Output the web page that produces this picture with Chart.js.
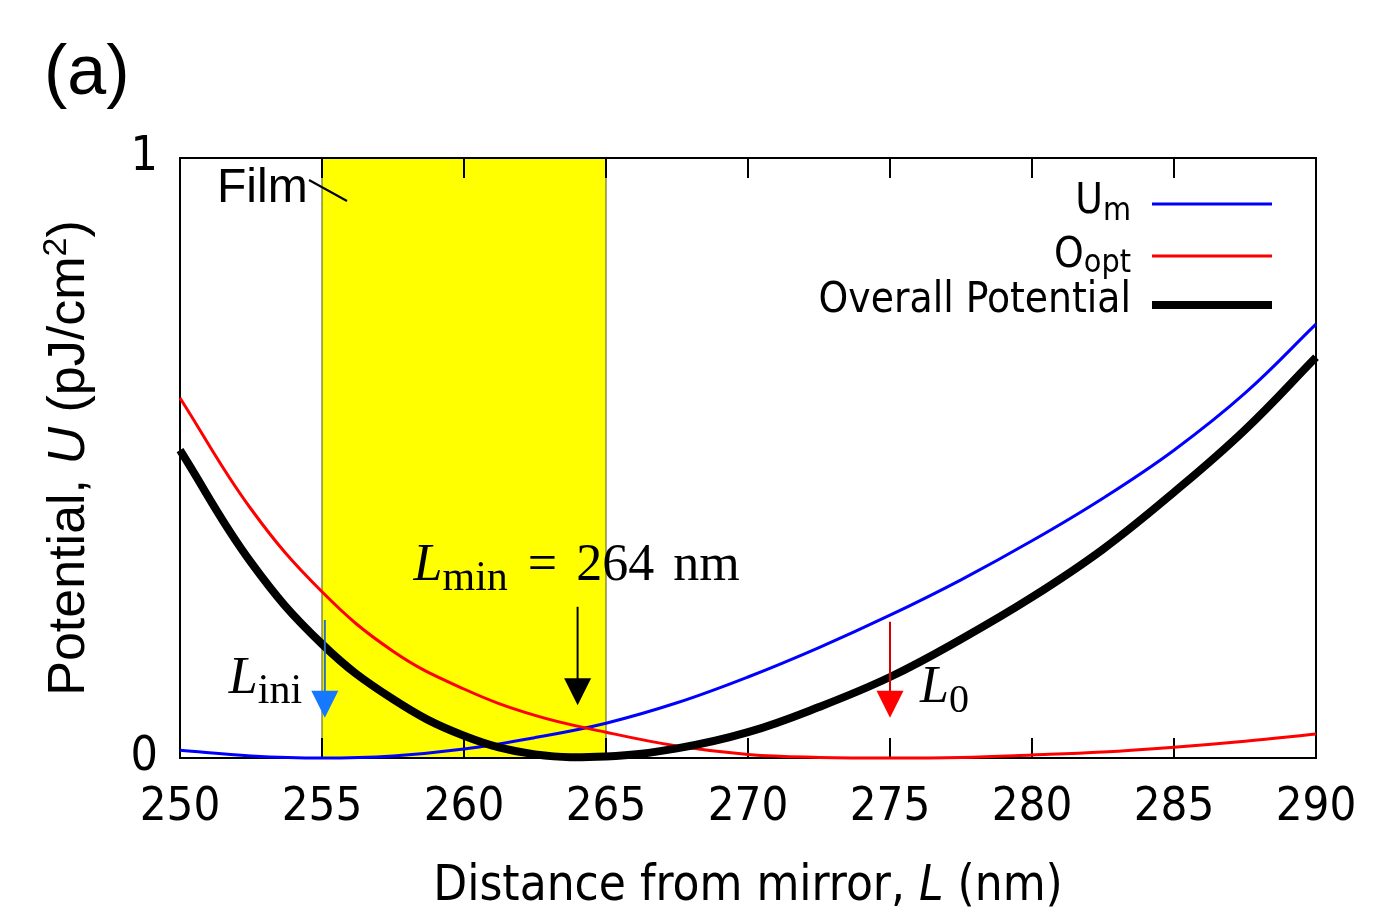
<!DOCTYPE html>
<html>
<head>
<meta charset="utf-8">
<script src="https://cdn.jsdelivr.net/npm/chart.js@4.4.0/dist/chart.umd.min.js"></script>
<style>
  html, body { margin: 0; padding: 0; background: #fff; }
  #wrap { width: 1388px; height: 924px; position: relative; }
</style>
</head>
<body>
<div id="wrap"><canvas id="potentialChart"></canvas></div>
<script>
// distance from mirror L (nm) and potentials U (pJ/cm2)
const distance = [250, 252.5, 255, 257.5, 260, 262.5, 265, 267.5, 270, 272.5, 275, 277.5, 280, 282.5, 285, 287.5, 290];
const uMirror  = [0.013, 0.0035, 0.0, 0.0035, 0.015, 0.034, 0.058, 0.092, 0.135, 0.184, 0.238, 0.297, 0.362, 0.433, 0.513, 0.608, 0.723];
const uOptical = [0.60, 0.415, 0.277, 0.178, 0.115, 0.071, 0.043, 0.02, 0.006, 0.001, 0.0, 0.001, 0.005, 0.01, 0.018, 0.028, 0.04];
const uOverall = [0.513, 0.326, 0.19, 0.098, 0.037, 0.006, 0.0025, 0.016, 0.043, 0.085, 0.135, 0.198, 0.268, 0.348, 0.443, 0.547, 0.668];

const xTicks = [250, 255, 260, 265, 270, 275, 280, 285, 290];
const yTicks = [0, 1];
const filmRange = [255, 265];

// arrows: L_ini, L_min, L_0
const markerL   = [255.1, 264, 275];
const markerTop = [0.23, 0.252, 0.227];
const markerTip = [0.067, 0.088, 0.067];

const SANS_C = '"DejaVu Sans Condensed", "DejaVu Sans", sans-serif';
const ARIAL = '"Liberation Sans", Arial, sans-serif';
const SERIF = '"Liberation Serif", "Times New Roman", serif';

function toPoints(ys) {
  return distance.map((x, i) => ({ x: x, y: ys[i] }));
}

// draw a row of text pieces (for sub/superscripts and italics)
function drawRuns(ctx, x, y, runs, align) {
  let total = 0;
  runs.forEach((r) => {
    ctx.font = r.font;
    r.w = ctx.measureText(r.text).width + (r.gap || 0);
    total += r.w;
  });
  let cx = x;
  if (align === "right") cx = x - total;
  if (align === "center") cx = x - total / 2;
  runs.forEach((r) => {
    ctx.font = r.font;
    ctx.fillText(r.text, cx + (r.gap || 0), y + (r.dy || 0));
    cx += r.w;
  });
}

function drawArrow(ctx, x, y1, y2, lineColor, headColor) {
  const headLen = 27, headW = 13.5;
  ctx.strokeStyle = lineColor;
  ctx.lineWidth = 2;
  ctx.beginPath();
  ctx.moveTo(x, y1);
  ctx.lineTo(x, y2 - headLen + 2);
  ctx.stroke();
  ctx.fillStyle = headColor;
  ctx.beginPath();
  ctx.moveTo(x - headW, y2 - headLen);
  ctx.lineTo(x + headW, y2 - headLen);
  ctx.lineTo(x, y2);
  ctx.closePath();
  ctx.fill();
}

const decor = {
  id: "decor",
  beforeDatasetsDraw(chart) {
    const { ctx, chartArea: a, scales: { x } } = chart;
    ctx.save();
    // film region
    const fx1 = x.getPixelForValue(filmRange[0]);
    const fx2 = x.getPixelForValue(filmRange[1]);
    ctx.fillStyle = "#ffff00";
    ctx.fillRect(fx1, a.top, fx2 - fx1, a.bottom - a.top);
    ctx.strokeStyle = "rgba(110,110,50,0.6)";
    ctx.lineWidth = 2;
    ctx.beginPath();
    ctx.moveTo(fx1, a.top); ctx.lineTo(fx1, a.bottom);
    ctx.moveTo(fx2, a.top); ctx.lineTo(fx2, a.bottom);
    ctx.stroke();

    // inward ticks top and bottom
    ctx.strokeStyle = "#000";
    ctx.lineWidth = 2;
    ctx.beginPath();
    xTicks.slice(1, -1).forEach((v) => {
      const px = x.getPixelForValue(v);
      ctx.moveTo(px, a.top); ctx.lineTo(px, a.top + 20);
      ctx.moveTo(px, a.bottom); ctx.lineTo(px, a.bottom - 20);
    });
    ctx.stroke();

    // frame
    ctx.strokeRect(a.left, a.top, a.right - a.left, a.bottom - a.top);
    ctx.restore();
  },
  afterDatasetsDraw(chart) {
    const { ctx, scales: { x, y } } = chart;
    ctx.save();
    const lineCols = ["#2a70b8", "#000", "#d40000"];
    const headCols = ["#1677ff", "#000", "#ff0000"];
    markerL.forEach((L, i) => {
      drawArrow(ctx, x.getPixelForValue(L), y.getPixelForValue(markerTop[i]),
        y.getPixelForValue(markerTip[i]), lineCols[i], headCols[i]);
    });

    ctx.fillStyle = "#000";
    ctx.textAlign = "left";
    ctx.textBaseline = "alphabetic";
    // L_ini
    const xi = x.getPixelForValue(markerL[0]);
    drawRuns(ctx, xi - 96, y.getPixelForValue(0.108), [
      { text: "L", font: "italic 52px " + SERIF },
      { text: "ini", font: "42px " + SERIF, dy: 10 },
    ]);
    // L_min = 264 nm
    const xm = x.getPixelForValue(markerL[1]);
    drawRuns(ctx, xm - 164, y.getPixelForValue(0.297), [
      { text: "L", font: "italic 52px " + SERIF },
      { text: "min", font: "42px " + SERIF, dy: 10 },
      { text: "=", font: "52px " + SERIF, gap: 20 },
      { text: "264", font: "52px " + SERIF, gap: 19 },
      { text: "nm", font: "52px " + SERIF, gap: 19 },
    ]);
    // L_0
    const xo = x.getPixelForValue(markerL[2]);
    drawRuns(ctx, xo + 30, y.getPixelForValue(0.093), [
      { text: "L", font: "italic 52px " + SERIF },
      { text: "0", font: "40px " + SERIF, dy: 10 },
    ]);
    ctx.restore();
  },
  afterDraw(chart) {
    const { ctx, chartArea: a } = chart;
    ctx.save();
    ctx.fillStyle = "#000";
    ctx.textBaseline = "alphabetic";
    ctx.textAlign = "left";

    // panel label
    ctx.font = "70px " + ARIAL;
    ctx.fillText("(a)", 44, 94);

    // Film label with leader
    ctx.font = "48px " + ARIAL;
    ctx.fillText("Film", 217, 202);
    ctx.strokeStyle = "#000";
    ctx.lineWidth = 2;
    ctx.beginPath();
    ctx.moveTo(309, 180);
    ctx.lineTo(347, 201);
    ctx.stroke();

    // x title
    drawRuns(ctx, (a.left + a.right) / 2, 900, [
      { text: "Distance from mirror, ", font: "49px " + SANS_C },
      { text: "L", font: "italic 49px " + SANS_C },
      { text: " (nm)", font: "49px " + SANS_C },
    ], "center");

    // y title
    ctx.save();
    ctx.translate(84, (a.top + a.bottom) / 2);
    ctx.rotate(-Math.PI / 2);
    drawRuns(ctx, 0, 0, [
      { text: "Potential, ", font: "52px " + ARIAL },
      { text: "U", font: "italic 52px " + ARIAL },
      { text: " (pJ/cm", font: "52px " + ARIAL },
      { text: "2", font: "34px " + ARIAL, dy: -18 },
      { text: ")", font: "52px " + ARIAL },
    ], "center");
    ctx.restore();

    // legend
    const ds = chart.data.datasets;
    const rows = [
      { y: 213, line: 204, runs: [
        { text: "U", font: "42px " + SANS_C },
        { text: "m", font: "32px " + SANS_C, dy: 7 }] },
      { y: 267, line: 256, runs: [
        { text: "O", font: "42px " + SANS_C },
        { text: "opt", font: "32px " + SANS_C, dy: 5 }] },
      { y: 312, line: 305, runs: [
        { text: "Overall Potential", font: "42px " + SANS_C }] },
    ];
    rows.forEach((r, i) => {
      ctx.fillStyle = "#000";
      drawRuns(ctx, 1131, r.y, r.runs, "right");
      ctx.strokeStyle = ds[i].borderColor;
      ctx.lineWidth = ds[i].borderWidth;
      ctx.beginPath();
      ctx.moveTo(1152, r.line);
      ctx.lineTo(1272, r.line);
      ctx.stroke();
    });
    ctx.restore();
  },
};

const ctx = document.getElementById("potentialChart").getContext("2d");
const chart = new Chart(ctx, {
  type: "line",
  data: {
    datasets: [
      { label: "Um", data: toPoints(uMirror), borderColor: "#0000ff", borderWidth: 3, order: 3, clip: 12 },
      { label: "Oopt", data: toPoints(uOptical), borderColor: "#ff0000", borderWidth: 3, order: 2, clip: 12 },
      { label: "Overall Potential", data: toPoints(uOverall), borderColor: "#000000", borderWidth: 8, order: 1, clip: 12 },
    ],
  },
  options: {
    responsive: true,
    maintainAspectRatio: false,
    animation: false,
    devicePixelRatio: 1,
    layout: { padding: { top: 158, right: 72, left: 0, bottom: 0 } },
    elements: {
      point: { radius: 0 },
      line: { tension: 0.4, fill: false, borderJoinStyle: "round" },
    },
    plugins: { legend: { display: false }, tooltip: { enabled: false } },
    scales: {
      x: {
        type: "linear",
        min: 250,
        max: 290,
        afterBuildTicks: (s) => { s.ticks = xTicks.map((v) => ({ value: v })); },
        afterFit: (s) => { s.height = 166; },
        grid: { display: false, drawTicks: false, tickLength: 0 },
        border: { display: false },
        ticks: { font: { family: SANS_C, size: 47 }, color: "#000", padding: 22, maxRotation: 0, autoSkip: false },
      },
      y: {
        type: "linear",
        min: 0,
        max: 1,
        afterBuildTicks: (s) => { s.ticks = yTicks.map((v) => ({ value: v })); },
        afterFit: (s) => { s.width = 180; },
        grid: { display: false, drawTicks: false, tickLength: 0 },
        border: { display: false },
        ticks: { font: { family: SANS_C, size: 48 }, color: "#000", padding: 22 },
      },
    },
  },
  plugins: [decor],
});
</script>
</body>
</html>
